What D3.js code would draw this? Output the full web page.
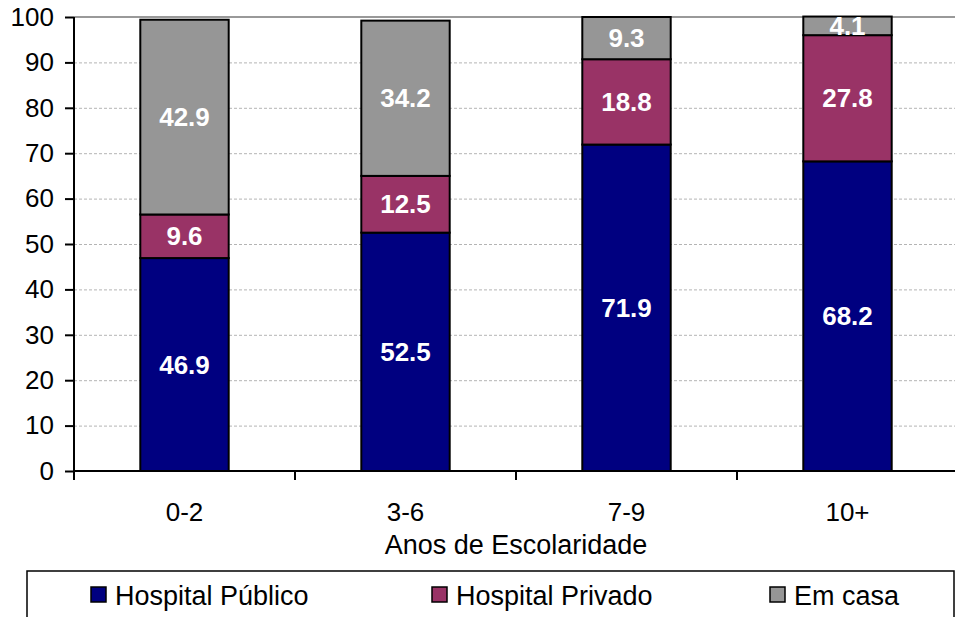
<!DOCTYPE html>
<html>
<head>
<meta charset="utf-8">
<script src="https://cdn.jsdelivr.net/npm/d3@7"></script>
<style>
  html, body { margin: 0; padding: 0; background: #fff; }
  svg { display: block; font-family: "Liberation Sans", Arial, sans-serif; }
</style>
</head>
<body>
<svg id="chart" width="955" height="617"></svg>
<script>
const categories = ["0-2", "3-6", "7-9", "10+"];
const seriesNames = ["Hospital Público", "Hospital Privado", "Em casa"];
const hospitalPublico = [46.9, 52.5, 71.9, 68.2];
const hospitalPrivado = [9.6, 12.5, 18.8, 27.8];
const emCasa = [42.9, 34.2, 9.3, 4.1];
const yTicks = [0, 10, 20, 30, 40, 50, 60, 70, 80, 90, 100];
const xTitle = "Anos de Escolaridade";
const colors = ["#000080", "#993366", "#969696"];

(function () {
const svg = d3.select("#chart");
const pLeft = 74, pRight = 958, pTop = 17, pBottom = 471;

const x = d3.scaleBand().domain(categories).range([pLeft, pRight])
  .paddingInner(0.6).paddingOuter(0.3);
const y = d3.scaleLinear().domain([0, 100]).range([pBottom, pTop]);

// gridlines
svg.append("g").selectAll("line").data(yTicks.filter(t => t > 0 && t < 100)).join("line")
  .attr("x1", pLeft).attr("x2", 955)
  .attr("y1", d => y(d) + 0.5).attr("y2", d => y(d) + 0.5)
  .attr("stroke", "#b4b4b4").attr("stroke-width", 1).attr("stroke-dasharray", "3,2");
// top border
svg.append("line").attr("x1", pLeft).attr("x2", 955)
  .attr("y1", y(100)).attr("y2", y(100))
  .attr("stroke", "#999").attr("stroke-width", 2);

// stack
const rows = categories.map((c, i) => ({
  cat: c, "Hospital Público": hospitalPublico[i], "Hospital Privado": hospitalPrivado[i], "Em casa": emCasa[i]
}));
const stacked = d3.stack().keys(seriesNames)(rows);

const g = svg.append("g");
stacked.forEach((layer, li) => {
  g.append("g").selectAll("rect").data(layer).join("rect")
    .attr("x", d => x(d.data.cat))
    .attr("width", x.bandwidth())
    .attr("y", d => y(d[1]))
    .attr("height", d => y(d[0]) - y(d[1]))
    .attr("fill", colors[li])
    .attr("stroke", "#000").attr("stroke-width", 2);
});
stacked.forEach((layer, li) => {
  g.append("g").selectAll("text").data(layer).join("text")
    .attr("x", d => x(d.data.cat) + x.bandwidth() / 2)
    .attr("y", d => y((d[0] + d[1]) / 2))
    .attr("dy", "0.35em")
    .attr("text-anchor", "middle")
    .attr("font-size", 26).attr("font-weight", "bold").attr("fill", "#fff")
    .text(d => (d[1] - d[0]).toFixed(1));
});

// y axis
const yAxis = svg.append("g").attr("transform", `translate(${pLeft},0)`)
  .call(d3.axisLeft(y).tickValues(yTicks).tickSize(9).tickPadding(11).tickFormat(d3.format("d")));
yAxis.select(".domain").attr("stroke", "#000").attr("stroke-width", 2)
  .attr("d", `M0,${pTop}V${pBottom + 1}`);
yAxis.selectAll(".tick line").attr("stroke", "#000").attr("stroke-width", 2);
yAxis.selectAll(".tick text").attr("font-size", 26).attr("fill", "#000")
  .attr("font-family", "Liberation Sans, Arial, sans-serif");

// x axis
const xAxis = svg.append("g").attr("transform", `translate(0,${pBottom})`);
xAxis.append("line").attr("x1", pLeft - 1).attr("x2", 955).attr("y1", 0).attr("y2", 0)
  .attr("stroke", "#000").attr("stroke-width", 2);
const boundaries = categories.map(c => x(c) - x.step() * x.paddingOuter());
xAxis.selectAll("line.tk").data(boundaries).join("line").attr("class", "tk")
  .attr("x1", d => d).attr("x2", d => d).attr("y1", 0).attr("y2", 9)
  .attr("stroke", "#000").attr("stroke-width", 2);
xAxis.selectAll("text.cl").data(categories).join("text").attr("class", "cl")
  .attr("x", d => x(d) + x.bandwidth() / 2).attr("y", 50)
  .attr("text-anchor", "middle").attr("font-size", 26).attr("fill", "#000")
  .text(d => d);
svg.append("text").attr("x", (pLeft + pRight) / 2).attr("y", 554)
  .attr("text-anchor", "middle").attr("font-size", 27).attr("fill", "#000")
  .text(xTitle);

// legend
svg.append("rect").attr("x", 27).attr("y", 571).attr("width", 927).attr("height", 60)
  .attr("fill", "#fff").attr("stroke", "#000").attr("stroke-width", 1.5);
const legendX = [91, 432, 770];
const lg = svg.append("g").selectAll("g").data(seriesNames).join("g")
  .attr("transform", (d, i) => `translate(${legendX[i]},587)`);
lg.append("rect").attr("width", 15).attr("height", 15)
  .attr("fill", (d, i) => colors[i]).attr("stroke", "#000").attr("stroke-width", 1.5);
lg.append("text").attr("x", 24).attr("y", 18).attr("font-size", 27).attr("fill", "#000")
  .text(d => d);
})();
</script>
</body>
</html>
